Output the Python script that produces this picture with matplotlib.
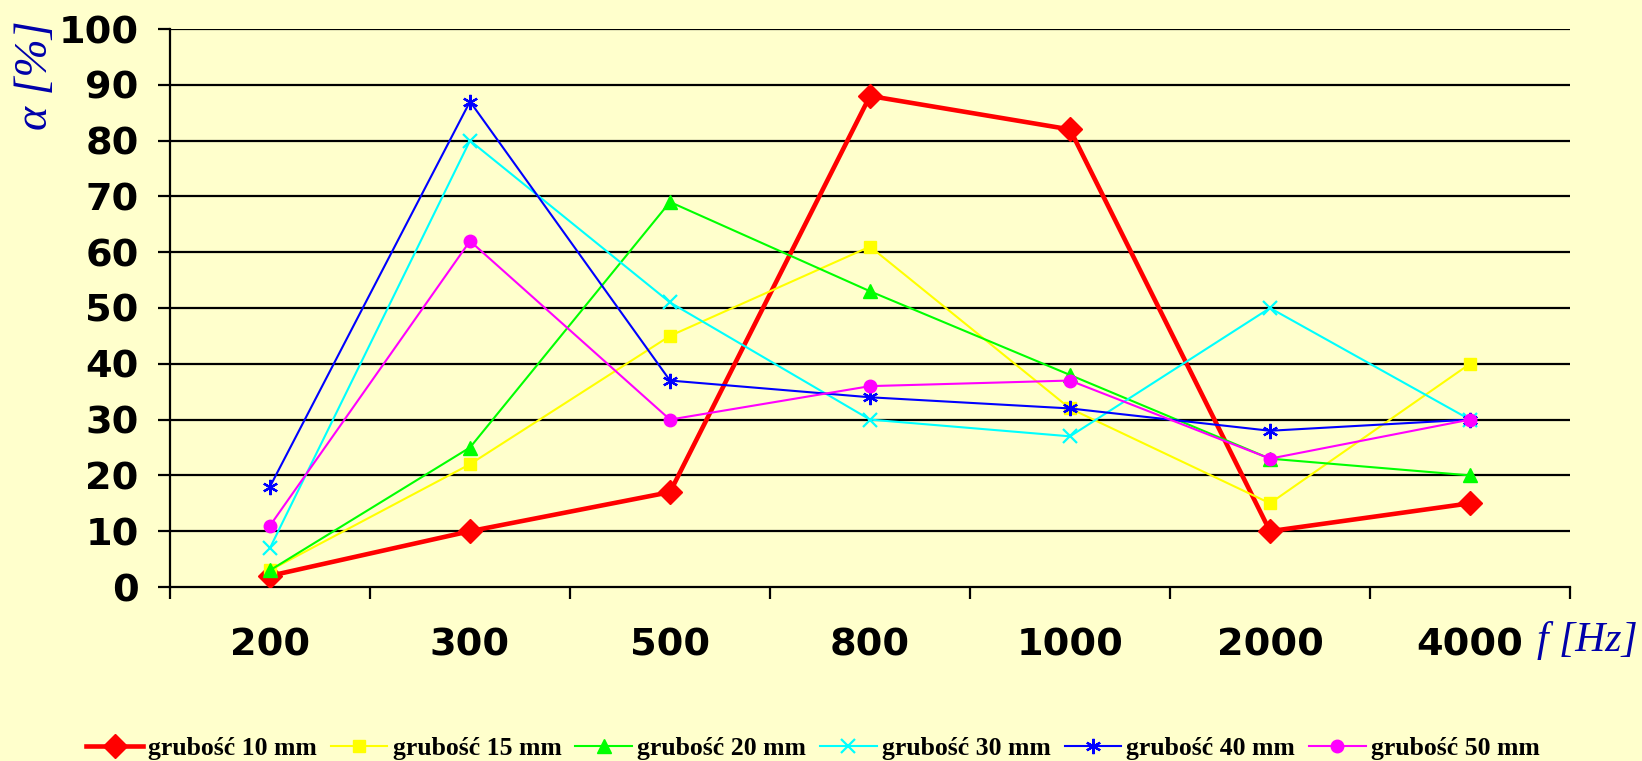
import matplotlib.pyplot as plt
from matplotlib.ticker import FixedLocator, NullFormatter

# Data
freqs = ["200", "300", "500", "800", "1000", "2000", "4000"]
g10 = [2, 10, 17, 88, 82, 10, 15]
g15 = [3, 22, 45, 61, 32, 15, 40]
g20 = [3, 25, 69, 53, 38, 23, 20]
g30 = [7, 80, 51, 30, 27, 50, 30]
g40 = [18, 87, 37, 34, 32, 28, 30]
g50 = [11, 62, 30, 36, 37, 23, 30]
labels = ["grubość 10 mm", "grubość 15 mm", "grubość 20 mm",
          "grubość 30 mm", "grubość 40 mm", "grubość 50 mm"]

W, H = 1642, 761
bg = "#FFFFCC"
fig = plt.figure(figsize=(W / 100, H / 100), dpi=100, facecolor=bg)
# plot area in pixels: x 170..1570, y 29..587
ax = fig.add_axes([170 / W, 1 - 587 / H, 1400 / W, 558 / H])
ax.set_facecolor(bg)

x = list(range(len(freqs)))

# Horizontal grid lines
for v in range(10, 101, 10):
    ax.axhline(v, color="black", lw=1.6, zorder=1)

ax.plot(x, g10, color="#FF0000", lw=3.3, marker="D", ms=12.5, label=labels[0], zorder=3)
ax.plot(x, g15, color="#FFFF00", lw=1.5, marker="s", ms=9, label=labels[1], zorder=4)
ax.plot(x, g20, color="#00FF00", lw=1.5, marker="^", ms=10, label=labels[2], zorder=5)
ax.plot(x, g30, color="#00FFFF", lw=1.5, marker="x", ms=10, mew=1.6, label=labels[3], zorder=6)
ax.plot(x, g40, color="#0000FF", lw=1.5, marker=(6, 2, 0), ms=11, mew=1.6, label=labels[4], zorder=7)
ax.plot(x, g50, color="#FF00FF", lw=1.5, marker="o", ms=9, label=labels[5], zorder=8)

ax.set_xlim(-0.5, len(freqs) - 0.5)
ax.set_ylim(0, 100)

# y axis
ax.set_yticks(range(0, 101, 10))
ax.tick_params(axis="y", which="major", length=8.6, width=1.6, direction="out",
               labelsize=27.5, pad=14)
for t in ax.get_yticklabels():
    t.set_fontweight("bold")

# x axis: ticks at category boundaries, labels at centres
ax.xaxis.set_major_locator(FixedLocator([i - 0.5 for i in range(len(freqs) + 1)]))
ax.xaxis.set_major_formatter(NullFormatter())
ax.xaxis.set_minor_locator(FixedLocator(x))
ax.set_xticklabels(freqs, minor=True)
ax.tick_params(axis="x", which="major", length=8.6, width=1.6, direction="out")
ax.tick_params(axis="x", which="minor", length=0, labelsize=27.5, pad=29.5)
for t in ax.get_xticklabels(minor=True):
    t.set_fontweight("bold")

for s in ["top", "right"]:
    ax.spines[s].set_visible(False)
ax.spines["left"].set_linewidth(1.6)
ax.spines["bottom"].set_linewidth(1.6)

# Axis titles
fig.text(36 / W, 1 - 75 / H, "α [%]", rotation=90, ha="center", va="center",
         fontsize=33, fontstyle="italic", family="Liberation Serif", color="#0000AA")
fig.text(1537 / W, 1 - 640 / H, "f [Hz]", ha="left", va="center",
         fontsize=30, fontstyle="italic", family="Liberation Serif", color="#0000AA")

# Legend
fig.legend(loc="center", bbox_to_anchor=(813 / W, 1 - 748 / H), ncol=6, frameon=False,
           prop={"family": "Liberation Serif", "weight": "bold", "size": 18.5},
           handlelength=2.2, handletextpad=0.2, columnspacing=0.55, borderpad=0)

fig.savefig("out.png", dpi=100, facecolor=bg)
